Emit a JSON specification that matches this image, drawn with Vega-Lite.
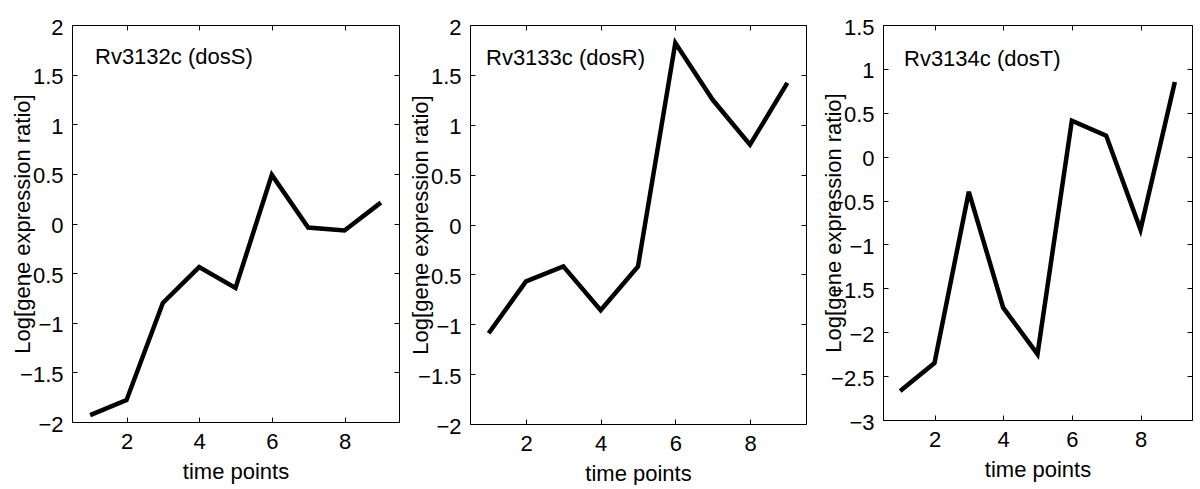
{
  "$schema": "https://vega.github.io/schema/vega-lite/v6.json",
  "background": "white",
  "padding": {"left": 11, "top": 15, "right": 0, "bottom": 0},
  "datasets": {
    "expr": [
      {"gene": "dosS", "t": 1, "v": -1.93}, {"gene": "dosS", "t": 2, "v": -1.78}, {"gene": "dosS", "t": 3, "v": -0.80},
      {"gene": "dosS", "t": 4, "v": -0.44}, {"gene": "dosS", "t": 5, "v": -0.65}, {"gene": "dosS", "t": 6, "v": 0.49},
      {"gene": "dosS", "t": 7, "v": -0.04}, {"gene": "dosS", "t": 8, "v": -0.07}, {"gene": "dosS", "t": 9, "v": 0.21},
      {"gene": "dosR", "t": 1, "v": -1.09}, {"gene": "dosR", "t": 2, "v": -0.57}, {"gene": "dosR", "t": 3, "v": -0.42},
      {"gene": "dosR", "t": 4, "v": -0.86}, {"gene": "dosR", "t": 5, "v": -0.42}, {"gene": "dosR", "t": 6, "v": 1.82},
      {"gene": "dosR", "t": 7, "v": 1.25}, {"gene": "dosR", "t": 8, "v": 0.80}, {"gene": "dosR", "t": 9, "v": 1.42},
      {"gene": "dosT", "t": 1, "v": -2.67}, {"gene": "dosT", "t": 2, "v": -2.35}, {"gene": "dosT", "t": 3, "v": -0.40},
      {"gene": "dosT", "t": 4, "v": -1.72}, {"gene": "dosT", "t": 5, "v": -2.25}, {"gene": "dosT", "t": 6, "v": 0.41},
      {"gene": "dosT", "t": 7, "v": 0.24}, {"gene": "dosT", "t": 8, "v": -0.83}, {"gene": "dosT", "t": 9, "v": 0.85}
    ]
  },
  "data": {"name": "expr"},
  "bounds": "flush",
  "spacing": 71,
  "hconcat": [
    {
      "width": 327, "height": 397,
      "title": {"text": "Rv3132c (dosS)", "anchor": "start", "frame": "group", "offset": 0, "dx": 23, "dy": 70, "baseline": "alphabetic"},
      "transform": [{"filter": "datum.gene === 'dosS'"}],
      "layer": [
        {"mark": {"type": "line", "color": "black", "strokeWidth": 4.5, "strokeJoin": "miter"},
         "encoding": {
           "x": {"field": "t", "type": "quantitative", "scale": {"domain": [0.5, 9.5], "nice": false, "zero": false},
                 "axis": {"orient": "bottom", "values": [2, 4, 6, 8], "title": "time points", "labelPadding": 14, "titlePadding": 9, "labelOffset": 0}},
           "y": {"field": "v", "type": "quantitative", "scale": {"domain": [-2, 2], "nice": false, "zero": false},
                 "axis": {"orient": "left", "values": [-2, -1.5, -1, -0.5, 0, 0.5, 1, 1.5, 2], "format": "~g", "title": "Log[gene expression ratio]", "titleX": -49.5, "titleBaseline": "middle", "labelPadding": 14}}
         }},
        {"mark": {"type": "line", "strokeOpacity": 0},
         "encoding": {
           "x": {"field": "t", "type": "quantitative", "axis": {"orient": "top", "values": [2, 4, 6, 8], "labels": false, "title": null}},
           "y": {"field": "v", "type": "quantitative", "axis": {"orient": "right", "values": [-2, -1.5, -1, -0.5, 0, 0.5, 1, 1.5, 2], "labels": false, "title": null}}
         }}
      ],
      "resolve": {"axis": {"x": "independent", "y": "independent"}}
    },
    {
      "bounds": "flush",
      "spacing": 77,
      "hconcat": [
        {
          "width": 336, "height": 399,
          "title": {"text": "Rv3133c (dosR)", "anchor": "start", "frame": "group", "offset": 0, "dx": 16, "dy": 71, "baseline": "alphabetic"},
          "transform": [{"filter": "datum.gene === 'dosR'"}],
          "layer": [
            {"mark": {"type": "line", "color": "black", "strokeWidth": 4.5, "strokeJoin": "miter"},
             "encoding": {
               "x": {"field": "t", "type": "quantitative", "scale": {"domain": [0.5, 9.5], "nice": false, "zero": false},
                     "axis": {"orient": "bottom", "values": [2, 4, 6, 8], "title": "time points", "labelPadding": 14, "titlePadding": 9, "labelOffset": 0}},
               "y": {"field": "v", "type": "quantitative", "scale": {"domain": [-2, 2], "nice": false, "zero": false},
                     "axis": {"orient": "left", "values": [-2, -1.5, -1, -0.5, 0, 0.5, 1, 1.5, 2], "format": "~g", "title": "Log[gene expression ratio]", "titleX": -49.5, "titleBaseline": "middle", "labelPadding": 14}}
             }},
            {"mark": {"type": "line", "strokeOpacity": 0},
             "encoding": {
               "x": {"field": "t", "type": "quantitative", "axis": {"orient": "top", "values": [2, 4, 6, 8], "labels": false, "title": null}},
               "y": {"field": "v", "type": "quantitative", "axis": {"orient": "right", "values": [-2, -1.5, -1, -0.5, 0, 0.5, 1, 1.5, 2], "labels": false, "title": null}}
             }}
          ],
          "resolve": {"axis": {"x": "independent", "y": "independent"}}
        },
        {
          "width": 309, "height": 395,
          "title": {"text": "Rv3134c (dosT)", "anchor": "start", "frame": "group", "offset": 0, "dx": 21, "dy": 72, "baseline": "alphabetic"},
          "transform": [{"filter": "datum.gene === 'dosT'"}],
          "layer": [
            {"mark": {"type": "line", "color": "black", "strokeWidth": 4.5, "strokeJoin": "miter"},
             "encoding": {
               "x": {"field": "t", "type": "quantitative", "scale": {"domain": [0.5, 9.5], "nice": false, "zero": false},
                     "axis": {"orient": "bottom", "values": [2, 4, 6, 8], "title": "time points", "labelPadding": 14, "titlePadding": 9, "labelOffset": 0}},
               "y": {"field": "v", "type": "quantitative", "scale": {"domain": [-3, 1.5], "nice": false, "zero": false},
                     "axis": {"orient": "left", "values": [-3, -2.5, -2, -1.5, -1, -0.5, 0, 0.5, 1, 1.5], "format": "~g", "title": "Log[gene expression ratio]", "titleX": -49.5, "titleBaseline": "middle", "labelPadding": 14}}
             }},
            {"mark": {"type": "line", "strokeOpacity": 0},
             "encoding": {
               "x": {"field": "t", "type": "quantitative", "axis": {"orient": "top", "values": [2, 4, 6, 8], "labels": false, "title": null}},
               "y": {"field": "v", "type": "quantitative", "axis": {"orient": "right", "values": [-3, -2.5, -2, -1.5, -1, -0.5, 0, 0.5, 1, 1.5], "labels": false, "title": null}}
             }}
          ],
          "resolve": {"axis": {"x": "independent", "y": "independent"}}
        }
      ]
    }
  ],
  "config": {
    "view": {"stroke": "black", "strokeWidth": 1},
    "font": "Liberation Sans",
    "title": {"font": "Liberation Sans", "fontSize": 22, "fontWeight": "normal", "color": "black"},
    "axis": {
      "domain": false, "grid": false,
      "ticks": true, "tickSize": -5, "tickColor": "black", "tickWidth": 1,
      "labelFont": "Liberation Sans", "labelFontSize": 22, "labelColor": "black", "labelPadding": 9, "labelOffset": 2,
      "labelFlush": false, "labelOverlap": false,
      "titleFont": "Liberation Sans", "titleFontSize": 22, "titleFontWeight": "normal", "titleColor": "black", "titlePadding": 5
    }
  }
}
